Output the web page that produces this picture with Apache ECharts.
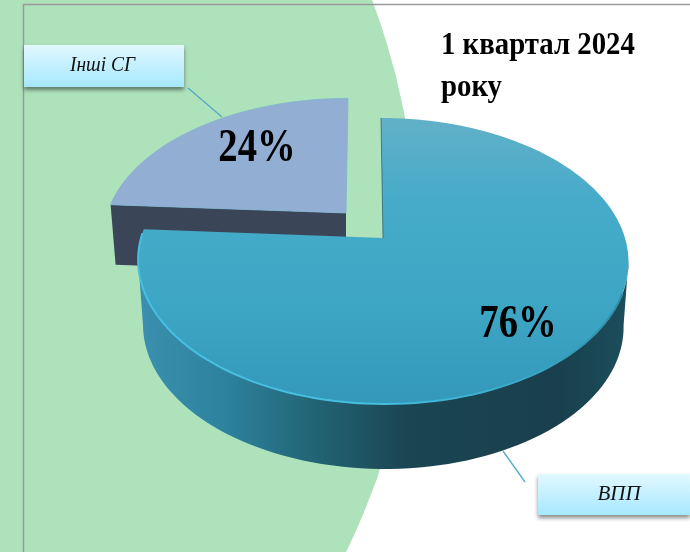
<!DOCTYPE html>
<html><head><meta charset="utf-8">
<style>html,body{margin:0;padding:0;background:#fff}#c{width:690px;height:552px}</style>
<script src="https://cdn.jsdelivr.net/npm/echarts@6/dist/echarts.min.js"></script>
</head><body><div id="c"></div>
<script>
var categories = ['ВПП', 'Інші СГ'];
var shares = [76, 24];
var titleLines = ['1 квартал 2024', 'року'];

// projection of the tilted disc (layout only)
var DISC = { cx: 383, apexY: 238, A: 139.3, C: -0.1608, D: 242 };
var WALL_H = 65, WALL_SHRINK = 0.98;
var TOTAL = shares.reduce(function (a, b) { return a + b; }, 0);

function project(deg, o) {
  var t = deg * Math.PI / 180, u = Math.sin(t), v = -Math.cos(t);
  var w = 1 + DISC.C * v;
  return [
    DISC.cx + o.dx + o.sx * (DISC.D * u / w) + o.skew * v,
    DISC.apexY + o.dy + o.sy * (DISC.A * v / w)
  ];
}
function arc(a0, a1, o) {
  var n = Math.max(2, Math.ceil(Math.abs(a1 - a0) / 2)), pts = [];
  for (var i = 0; i <= n; i++) pts.push(project(a0 + (a1 - a0) * i / n, o));
  return pts;
}
function down(pts, apexX) {
  return pts.map(function (p) { return [apexX + (p[0] - apexX) * WALL_SHRINK, p[1] + WALL_H]; });
}
function grad(x0, y0, x1, y1, stops) {
  return new echarts.graphic.LinearGradient(x0, y0, x1, y1, stops.map(function (s) { return { offset: s[0], color: s[1] }; }));
}

var views = [
  { dx: 0, dy: 0, sx: 1, sy: 1, skew: 2, label: [518, 325] },
  { dx: -37, dy: -25, sx: 0.985, sy: 0.955, skew: -2, label: [257, 149] }
];

function renderItem(params, api) {
  var i = params.dataIndex, value = api.value(0);
  var start = 0;
  for (var k = 0; k < i; k++) start += shares[k];
  var a0 = start / TOTAL * 360, a1 = (start + value) / TOTAL * 360;
  var o = views[i], apex = [DISC.cx + o.dx, DISC.apexY + o.dy];
  var rim = arc(a0, a1, o);
  var top = [apex].concat(rim);
  var kids = [];
  if (i === 0) {
    var front = arc(99, 261, o);
    var bottom = down(front, apex[0]).reverse();
    kids.push({ type: 'polygon', z2: 20, shape: { points: front.concat(bottom) }, style: {
      fill: grad(0, 0, 1, 0, [[0, '#3a90ae'], [0.18, '#2d829e'], [0.36, '#226474'], [0.55, '#1b4553'], [0.85, '#193f4c'], [1, '#1c4e5c']])
    } });
    kids.push({ type: 'polygon', z2: 21, shape: { points: top }, style: {
      fill: grad(0, 0, 0, 1, [[0, '#62b0c8'], [0.3, '#45abc9'], [0.65, '#3ea6c5'], [1, '#3398ba']])
    } });
    kids.push({ type: 'polyline', z2: 22, shape: { points: arc(112, 272, o) }, style: {
      fill: null, lineWidth: 2,
      stroke: grad(0, 0, 1, 0, [[0, '#46bfe0'], [0.5, '#46bfe0'], [0.8, '#3aa8c6'], [1, '#2e8ba6']])
    } });
    kids.push({ type: 'polyline', z2: 22, shape: { points: [project(0, o), apex] }, style: {
      fill: null, lineWidth: 1, stroke: '#2b5566', opacity: 0.7
    } });
  } else {
    var corner = project(a0, o);
    kids.push({ type: 'polygon', z2: 10, shape: { points: [
      corner, apex, [apex[0], apex[1] + 60], [corner[0] + 5, corner[1] + 60]
    ] }, style: { fill: '#3b4558' } });
    kids.push({ type: 'polygon', z2: 11, shape: { points: top }, style: { fill: '#92aed3', stroke: '#7fb4cf', lineWidth: 0.8 } });
  }
  kids.push({ type: 'text', z2: 30, x: o.label[0], y: o.label[1], scaleX: 0.84, style: {
    text: value + '%', x: 0, y: 0, align: 'center', verticalAlign: 'middle',
    font: 'bold 46px "Liberation Serif"', fill: '#000'
  } });
  return { type: 'group', children: kids };
}

function callout(name, x, y, w, h, tx, sx) {
  return [
    { type: 'rect', z: 5, shape: { x: x, y: y, width: w, height: h }, style: {
      fill: grad(0, 0, 0, 1, [[0, '#e2f8ff'], [1, '#a6e8ff']]),
      shadowBlur: 4, shadowOffsetY: 3, shadowColor: 'rgba(0,0,0,0.45)'
    } },
    { type: 'text', z: 6, x: tx, y: y + h / 2, scaleX: sx, style: {
      text: name, align: 'center', verticalAlign: 'middle',
      font: 'italic 20px "Liberation Serif"', fill: '#111'
    } }
  ];
}
var leader = function (p, q) {
  return { type: 'line', z: 1, shape: { x1: p[0], y1: p[1], x2: q[0], y2: q[1] }, style: { stroke: '#55a9c4', lineWidth: 1.3 } };
};

var chart = echarts.init(document.getElementById('c'), null, { renderer: 'canvas' });
chart.setOption({
  animation: false,
  backgroundColor: '#fff',
  graphic: [
    { type: 'circle', z: 0, shape: { cx: -279, cy: 246, r: 696 }, style: { fill: '#aee2bb' } },
    { type: 'polyline', z: 1, shape: { points: [[23.5, 552], [23.5, 4.5], [690, 4.5]] }, style: { fill: null, stroke: '#9a9a9a', lineWidth: 1.5 } },
    leader([188, 88], [222, 117]),
    leader([503, 451], [525, 482])
  ].concat(callout(categories[1], 24, 45, 160, 42, 102.5, 0.97), callout(categories[0], 538, 474, 152, 41, 619, 1.05), [
    { type: 'text', z: 6, x: 441, y: 46, scaleX: 0.9, style: { text: titleLines[0], align: 'left', verticalAlign: 'middle', font: 'bold 32px "Liberation Serif"', fill: '#000' } },
    { type: 'text', z: 6, x: 441, y: 88, scaleX: 0.9, style: { text: titleLines[1], align: 'left', verticalAlign: 'middle', font: 'bold 32px "Liberation Serif"', fill: '#000' } }
  ]),
  series: [{
    type: 'custom',
    coordinateSystem: 'none',
    renderItem: renderItem,
    data: shares.map(function (v, i) { return { name: categories[i], value: [v] }; })
  }]
});
</script>
</body></html>
